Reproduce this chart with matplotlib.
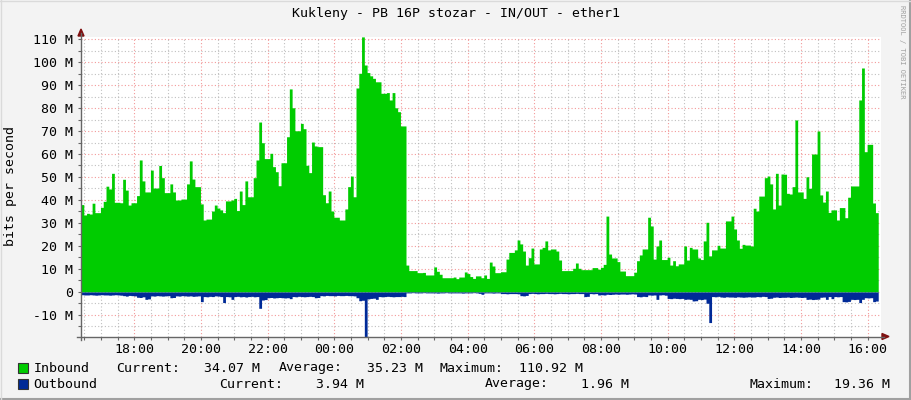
#!/usr/bin/env python3
"""
RRDtool-style traffic graph: Kukleny - PB 16P stozar - IN/OUT - ether1
Values are in Mbit/s, one sample every 5 minutes over 24 hours.
"""
import datetime as dt
import numpy as np
import matplotlib
matplotlib.use('Agg')
import matplotlib.pyplot as plt
import matplotlib.dates as mdates
from matplotlib.lines import Line2D
from matplotlib.patches import Rectangle, Polygon

TITLE = 'Kukleny - PB 16P stozar - IN/OUT - ether1'
START = dt.datetime(2024, 5, 14, 16, 24)
STEP_MIN = 5

# inbound traffic, Mbit/s (5 min samples)
inbound = [
    38, 33.5, 34.2, 33.9, 38.6, 34.5, 34.5, 36.8, 39.4, 46, 44.8, 51.6, 39, 39, 38.8, 49,
    44.3, 37.8, 38.8, 38.8, 41.9, 57.4, 48.3, 43.5, 43.5, 53, 45.2, 45.2, 55, 49.7, 43.2, 43.2,
    47, 43.5, 40, 40, 40.4, 40.4, 47, 57, 49.1, 45.8, 45.8, 38.3, 31.3, 31.7, 31.7, 35.2,
    37.8, 36.5, 35.7, 34.5, 39.6, 39.6, 40, 40.7, 35.4, 43.9, 38, 48.3, 41.4, 41.4, 49.7, 57.4,
    73.9, 64.9, 58, 58, 60.3, 54.5, 52.3, 46.2, 56.2, 56.2, 67.5, 88.3, 80.1, 70.1, 70.1, 73.3,
    71, 55.1, 51.9, 65.2, 63.5, 63.2, 63.2, 42.3, 38.8, 43.9, 35.2, 32.5, 32.5, 31.3, 31.3, 36.1,
    45.8,
    50.4, 41.4, 88.7, 95.1, 110.92, 98.7, 95.4, 94, 92.9, 91.4, 91.4, 86.4, 86.4, 86.7, 83.5, 86.7,
    80.1, 78.4, 72.2, 72.2, 11.7, 9.3, 9.3, 9.3, 8.4, 8.4, 8.5, 7.4, 7.4, 7.4, 10.9, 9.0,
    7.7, 6.2, 6.2, 6.2, 6.2, 6.5, 5.8, 6.5, 6.5, 8.7, 8.0, 6.7, 5.9, 7.0, 7.0, 6.2,
    7.4, 5.9, 13, 11.3, 8.4, 8.4, 8.8, 8.8, 14.3, 17.2, 17.2, 18.3, 22.6, 20.9, 17.8, 11.7,
    14.9, 19.1, 12.2, 12.2, 18.7, 19.4, 22.2, 18.3, 18.7, 18.7, 17.8, 13.9, 9.3, 9.3, 9.3, 9.3,
    10.3, 12.6, 10.3, 9.7, 9.7, 9.7, 9.7, 10.6, 10.6, 9.9, 10.7, 12, 33, 16.5, 14.8, 14.8,
    13.2,
    9.1, 9.1, 7.1, 7.1, 7.1, 8.6, 13.6, 16.1, 18.7, 18.7, 32.5, 28.7, 14.3, 20, 22.6, 14.1,
    14.1, 15.1, 11.7, 13.6, 11.4, 12.2, 12.2, 20, 13.9, 19.4, 18.7, 18.7, 14.8, 14.1, 22.2, 30.3,
    15.7, 18.3, 18.3, 20.3, 19.1, 19.1, 30.9, 30.9, 33, 27.4, 22.6, 19, 20.7, 20.4, 20.4, 20,
    36.4,
    35.2, 41.7, 41.7, 49.7, 50.4, 47, 36.1, 51.6, 37.8, 51.3, 51.2, 42.9, 42.6, 45.8, 74.8, 43.5,
    43.5, 40.7, 50.1, 45.1, 60, 60, 70, 42.2, 39.1, 43.9, 34.6, 35.7, 35.7, 31.3, 36.7, 36.7,
    32.3, 41.2, 46.1, 46.1, 46.1, 83.5, 97.4, 61, 64.2, 64.2, 38.7, 34.5,
]

# outbound traffic, Mbit/s (drawn below zero)
outbound = [
    1.2, 1.3, 1.3, 1.2, 1.3, 1.4, 1.3, 1.2, 1.3, 1.3, 1.4, 1.3, 1.2, 1.3, 1.4, 1.6,
    1.8, 1.5, 1.6, 1.7, 2.3, 2.4, 2.1, 3.2, 3.0, 1.7, 1.8, 1.6, 1.7, 1.8, 1.7, 1.6,
    2.5, 2.4, 1.7, 1.8, 1.6, 1.7, 1.8, 1.7, 1.9, 1.8, 1.7, 4.2, 2.0, 2.1, 1.9, 2.0,
    1.7, 1.8, 2.0, 4.6, 2.0, 2.1, 3.2, 2.0, 1.9, 2.1, 2.0, 2.2, 2.0, 1.9, 2.1, 2.0,
    7.1, 3.5, 3.3, 2.5, 2.4, 2.6, 2.5, 2.4, 2.5, 2.6, 2.5, 2.9, 2.0, 2.1, 1.9, 2.0,
    2.1, 2.0, 1.9, 2.0, 2.5, 2.4, 1.6, 1.7, 1.5, 1.6, 1.6, 1.7, 1.5, 1.6, 1.6, 1.5,
    1.6,
    1.6, 1.7, 2.5, 3.8, 3.6, 19.36, 3.0, 2.8, 2.7, 3.2, 2.0, 2.1, 2.0, 1.9, 2.0, 2.1,
    2.0, 2.0, 1.9, 2.0, 0.4, 0.4, 0.3, 0.4, 0.4, 0.4, 0.3, 0.4, 0.4, 0.4, 0.4, 0.5,
    0.4, 0.4, 0.3, 0.4, 0.4, 0.4, 0.4, 0.4, 0.5, 0.4, 0.4, 0.4, 0.3, 0.4, 0.6, 1.0,
    0.4, 0.4, 0.4, 0.5, 0.4, 0.4, 0.7, 0.7, 0.8, 0.7, 0.7, 0.7, 0.8, 1.6, 1.7, 1.5,
    0.7, 0.6, 0.7, 0.8, 0.7, 0.7, 0.6, 0.7, 0.7, 0.8, 0.7, 0.6, 0.7, 0.7, 0.8, 0.7,
    0.7, 0.6, 0.7, 0.7, 2.0, 1.9, 0.7, 0.8, 0.7, 1.3, 1.2, 1.3, 1.0, 1.1, 1.0, 0.9,
    1.0,
    0.9, 0.9, 1.0, 0.9, 0.8, 0.9, 2.0, 2.1, 1.9, 2.0, 1.3, 1.4, 1.3, 3.2, 1.3, 1.2,
    1.4, 2.8, 2.9, 2.7, 2.8, 2.9, 2.8, 3.2, 3.1, 3.2, 3.9, 3.8, 3.2, 3.3, 3.1, 4.9,
    13.3, 2.0, 2.1, 1.9, 2.2, 2.3, 2.1, 2.2, 2.2, 2.3, 2.1, 2.2, 2.3, 2.2, 2.1, 2.2,
    2.2,
    2.0, 2.1, 1.9, 2.0, 2.8, 2.7, 2.3, 2.2, 2.4, 2.3, 2.3, 2.2, 2.4, 2.3, 2.2, 2.3,
    2.4, 2.3, 3.2, 3.1, 3.3, 3.2, 3.1, 2.3, 2.2, 3.2, 2.0, 2.9, 2.0, 2.1, 2.0, 4.2,
    4.3, 4.1, 3.2, 3.3, 3.2, 4.6, 3.2, 2.5, 2.6, 2.5, 4.2, 3.94,
]

y_ticks = [-10, 0, 10, 20, 30, 40, 50, 60, 70, 80, 90, 100, 110]
y_tick_labels = ['-10 M', '0', '10 M', '20 M', '30 M', '40 M', '50 M',
                 '60 M', '70 M', '80 M', '90 M', '100 M', '110 M']
inbound_stats = ['34.07 M', '35.23 M', '110.92 M']
outbound_stats = ['3.94 M', '1.96 M', '19.36 M']

GREEN = '#00CC00'
BLUE = '#002A97'
MONO = 'DejaVu Sans Mono'
FS = 9.5

W, H = 911, 400
plt.rcParams['font.family'] = MONO

fig = plt.figure(figsize=(W / 100, H / 100), dpi=100, facecolor='#F3F3F3')


def fx(px):
    return px / W


def fy(py):
    return 1 - py / H


top_px, bot_px = 36.9, 336.5
ax = fig.add_axes([fx(81), fy(bot_px), 800 / W, (bot_px - top_px) / H])
ax.set_facecolor('white')

times = [START + dt.timedelta(minutes=STEP_MIN * i) for i in range(len(inbound) + 1)]
x = mdates.date2num(times)
inb = np.append(inbound, inbound[-1])
outb = -np.append(outbound, outbound[-1])
ax.fill_between(x, inb, 0, step='post', color=GREEN, lw=0)
ax.fill_between(x, outb, 0, step='post', color=BLUE, lw=0)

ax.set_xlim(mdates.date2num(START), mdates.date2num(START + dt.timedelta(hours=24)))
ax.set_ylim(-19.36, 110.92)

ax.xaxis.set_major_locator(mdates.HourLocator(byhour=range(0, 24, 2)))
ax.xaxis.set_minor_locator(mdates.MinuteLocator(byminute=[0, 30]))
ax.xaxis.set_major_formatter(mdates.DateFormatter('%H:%M'))
ax.set_yticks(y_ticks, labels=y_tick_labels)
ax.yaxis.set_minor_locator(matplotlib.ticker.MultipleLocator(5))

ax.set_axisbelow(True)
ax.grid(which='major', color='#F08080', alpha=0.8, linestyle=(0, (1, 2)), lw=0.8)
ax.grid(which='minor', color='#B0B0B0', alpha=0.8, linestyle=(0, (1, 2)), lw=0.8)

for s in ax.spines.values():
    s.set_visible(False)
ax.tick_params(which='both', direction='out', length=2.5, width=0.8, color='#666666',
               labelsize=FS, labelcolor='black')
ax.tick_params(axis='x', pad=2)
ax.tick_params(axis='y', pad=3.5)

# axis lines with arrow heads
AXC = '#666666'
ARC = '#7F1010'
fig.add_artist(Line2D([fx(81), fx(81)], [fy(340), fy(33)], color=AXC, lw=1))
fig.add_artist(Line2D([fx(77), fx(884)], [fy(bot_px), fy(bot_px)], color=AXC, lw=1))
fig.add_artist(Polygon([[fx(78), fy(36)], [fx(84), fy(36)], [fx(81), fy(29)]],
                       closed=True, color=ARC, transform=fig.transFigure))
fig.add_artist(Polygon([[fx(882), fy(bot_px - 3)], [fx(882), fy(bot_px + 3)],
                        [fx(889), fy(bot_px)]],
                       closed=True, color=ARC, transform=fig.transFigure))

fig.text(fx(455.5), fy(13), TITLE, ha='center', va='center', fontsize=FS)
fig.text(fx(11), fy(186), 'bits per second', rotation=90, ha='center', va='center',
         fontsize=FS)
fig.text(fx(902), fy(5), 'RRDTOOL / TOBI OETIKER', rotation=270, ha='center', va='top',
         fontsize=5.1, color='#A0A0A0')

# legend rows
rows = [
    (368, GREEN, 'Inbound', inbound_stats, [116, 279, 440], [204.5, 366.6, 519]),
    (384, BLUE, 'Outbound', outbound_stats, [219.6, 485, 749.5], [315.5, 581, 834]),
]
for y, col, name, stats, lab_x, val_x in rows:
    fig.add_artist(Rectangle((fx(17.5), fy(y + 5)), 10 / W, 10 / H, facecolor=col,
                             edgecolor='#333333', lw=0.8, transform=fig.transFigure))
    fig.text(fx(33.7), fy(y), name, ha='left', va='center', fontsize=FS)
    for lab, lx, val, vx in zip(['Current:', 'Average:', 'Maximum:'], lab_x, stats, val_x):
        fig.text(fx(lx), fy(y), lab, ha='left', va='center', fontsize=FS)
        fig.text(fx(vx), fy(y), val, ha='left', va='center', fontsize=FS)

# frame shading
fig.add_artist(Line2D([fx(909.5), fx(909.5)], [0, 1], color='#A0A0A0', lw=1.5))
fig.add_artist(Line2D([0, 1], [fy(398.5), fy(398.5)], color='#A0A0A0', lw=1.5))
fig.add_artist(Line2D([fx(0.5), fx(0.5)], [0, 1], color='#DADADA', lw=1))
fig.add_artist(Line2D([0, 1], [fy(0.5), fy(0.5)], color='#DADADA', lw=1))

fig.savefig('out.png', dpi=100, facecolor=fig.get_facecolor())
